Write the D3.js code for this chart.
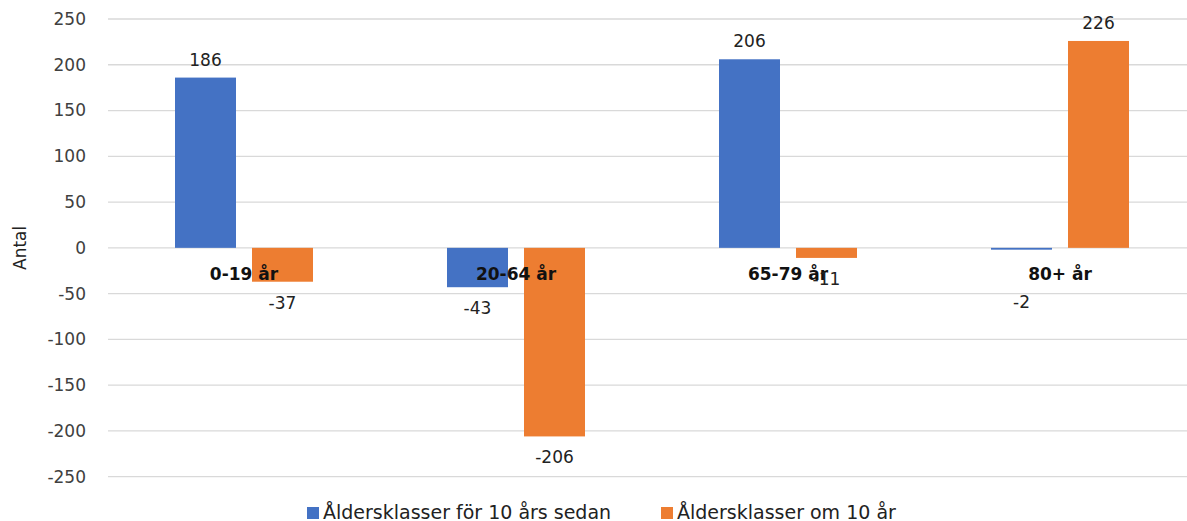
<!DOCTYPE html>
<html>
<head>
<meta charset="utf-8">
<script src="https://cdn.jsdelivr.net/npm/d3@7/dist/d3.min.js"></script>
<style>
  html, body { margin: 0; padding: 0; background: #fff; }
  svg { display: block; }
  text { font-family: "DejaVu Sans", sans-serif; }
</style>
</head>
<body>
<svg id="chart" width="1187" height="521"></svg>
<script>
const categories = ["0-19 år", "20-64 år", "65-79 år", "80+ år"];
const seriesNames = ["Åldersklasser för 10 års sedan", "Åldersklasser om 10 år"];
const seriesPast = [186, -43, 206, -2];
const seriesFuture = [-37, -206, -11, 226];
const yTicks = [-250, -200, -150, -100, -50, 0, 50, 100, 150, 200, 250];
const colors = ["#4472C4", "#ED7D31"];

const svg = d3.select("#chart");
const W = 1187, H = 521;
const plotLeft = 108, plotRight = 1196;
const y = d3.scaleLinear().domain([-250, 250]).range([476.7, 19]);
const x0 = d3.scaleBand().domain(categories).range([plotLeft, plotRight]).padding(0);
const x1 = d3.scaleBand().domain([0, 1]).range([67, 205]).paddingInner(0.208).paddingOuter(0);

const seriesValues = [seriesPast, seriesFuture];
const data = [];
categories.forEach((c, i) => {
  seriesValues.forEach((vals, s) => data.push({ cat: c, s, v: vals[i] }));
});

// gridlines
svg.append("g").selectAll("line").data(yTicks).join("line")
  .attr("x1", plotLeft).attr("x2", W)
  .attr("y1", d => y(d)).attr("y2", d => y(d))
  .attr("stroke", "#d9d9d9").attr("stroke-width", 1.3);

// y axis labels
const yAxis = d3.axisLeft(y).tickValues(yTicks).tickSize(0).tickPadding(0)
  .tickFormat(d => String(d));
const yg = svg.append("g").attr("transform", `translate(86,0)`).call(yAxis);
yg.select(".domain").remove();
yg.selectAll("text").attr("font-size", 17).attr("fill", "#404040")
  .attr("font-family", '"DejaVu Sans", sans-serif');

// axis title
svg.append("text")
  .attr("transform", `translate(26,${y(0)}) rotate(-90)`)
  .attr("text-anchor", "middle")
  .attr("font-size", 17).attr("fill", "#222")
  .text("Antal");

// bars
svg.append("g").selectAll("rect").data(data).join("rect")
  .attr("x", d => x0(d.cat) + x1(d.s))
  .attr("width", x1.bandwidth())
  .attr("y", d => y(Math.max(0, d.v)))
  .attr("height", d => Math.max(1, Math.abs(y(d.v) - y(0))))
  .attr("fill", d => colors[d.s]);

// category labels at zero line
svg.append("g").selectAll("text").data(categories).join("text")
  .attr("x", d => x0(d) + x0.bandwidth() / 2)
  .attr("y", y(0) + 32)
  .attr("text-anchor", "middle")
  .attr("font-size", 17).attr("font-weight", "bold").attr("fill", "#111")
  .text(d => d);

// value labels
svg.append("g").selectAll("text").data(data).join("text")
  .attr("x", d => x0(d.cat) + x1(d.s) + x1.bandwidth() / 2)
  .attr("y", d => {
    if (d.v >= 0) return y(d.v) - 12;
    const base = y(d.v) + 27;
    // tiny values are pushed below the category labels
    return Math.abs(d.v) < 5 ? y(0) + 60 : base;
  })
  .attr("text-anchor", "middle")
  .attr("font-size", 17).attr("fill", "#222")
  .text(d => d.v);

// legend
const legendX = [307, 661];
const lg = svg.append("g").selectAll("g").data(seriesNames).join("g")
  .attr("transform", (d, i) => `translate(${legendX[i]},505)`);
lg.append("rect").attr("width", 12).attr("height", 12).attr("y", 2)
  .attr("fill", (d, i) => colors[i]);
lg.append("text").attr("x", 16).attr("y", 14)
  .attr("font-size", 19).attr("fill", "#222")
  .text(d => d);
</script>
</body>
</html>
